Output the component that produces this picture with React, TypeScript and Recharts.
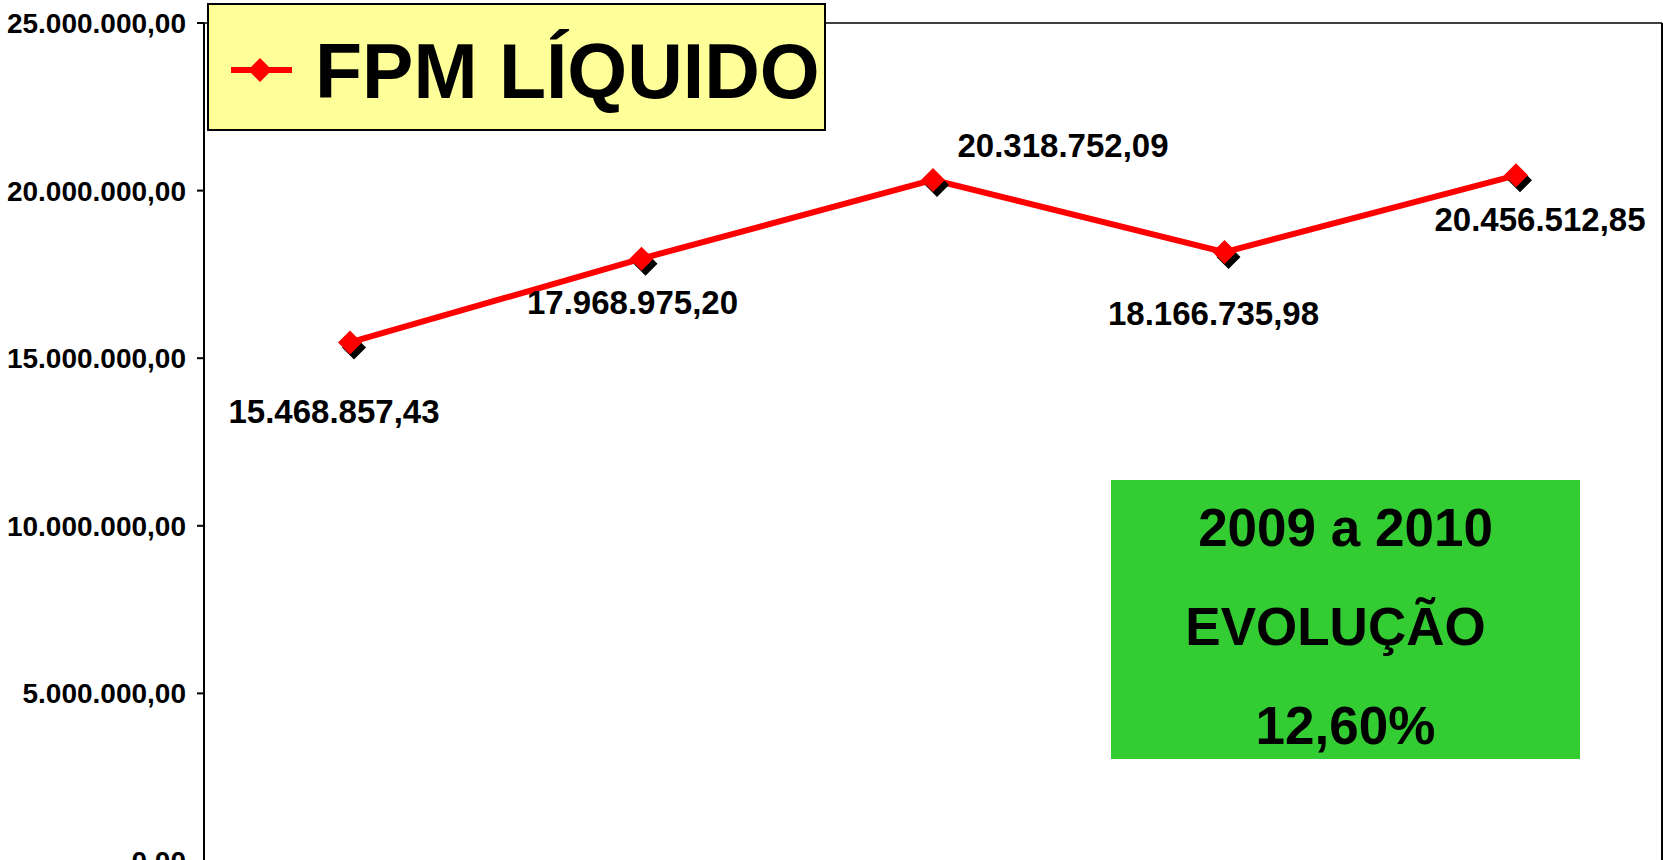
import React from "react";
import {
  LineChart,
  Line,
  XAxis,
  YAxis,
  CartesianGrid,
  Legend,
  LabelList,
} from "recharts";

const years = ["2006", "2007", "2008", "2009", "2010"];
const fpmLiquido = [15468857.43, 17968975.2, 20318752.09, 18166735.98, 20456512.85];
const yTicks = [0, 5000000, 10000000, 15000000, 20000000, 25000000];
const seriesName = "FPM LÍQUIDO";
const noteLines = ["2009 a 2010", "EVOLUÇÃO", "12,60%"];

// where each value label sits relative to its point
const labelOffsets = [
  [-16, 69],
  [-9, 44],
  [130, -34],
  [-11, 61],
  [24, 44],
];

const data = years.map((year, i) => ({ year, value: fpmLiquido[i] }));

const FONT = '"Liberation Sans", Arial, sans-serif';

const fmtBR = (v: number) => {
  const [int, dec] = v.toFixed(2).split(".");
  return int.replace(/\B(?=(\d{3})+(?!\d))/g, ".") + "," + dec;
};

const Diamond = ({ cx, cy, r, fill }: { cx: number; cy: number; r: number; fill: string }) => (
  <path d={`M${cx},${cy - r}L${cx + r},${cy}L${cx},${cy + r}L${cx - r},${cy}Z`} fill={fill} />
);

const ShadowDot = (props: any) => {
  const { cx, cy, index } = props;
  if (cx == null || cy == null) return null;
  return (
    <g key={`dot-${index}`}>
      <Diamond cx={cx + 4} cy={cy + 5} r={12} fill="#000" />
      <Diamond cx={cx} cy={cy} r={12} fill="#FF0000" />
    </g>
  );
};

const ValueLabel = (props: any) => {
  const { x, y, index, value } = props;
  const [dx, dy] = labelOffsets[index] || [0, 0];
  return (
    <text
      x={x + dx}
      y={y + dy}
      textAnchor="middle"
      dominantBaseline="central"
      fontFamily={FONT}
      fontWeight="bold"
      fontSize={33}
      fill="#000"
    >
      {fmtBR(value)}
    </text>
  );
};

const LegendBox = () => (
  <div
    style={{
      width: 615,
      height: 124,
      background: "#FFFF99",
      border: "2px solid #000",
    }}
  >
    <svg width={615} height={124}>
      <line x1={22} y1={65} x2={83} y2={65} stroke="#FF0000" strokeWidth={6} />
      <Diamond cx={51} cy={65} r={12} fill="#FF0000" />
      <text x={106} y={93} fontFamily={FONT} fontWeight="bold" fontSize={77} fill="#000">
        {seriesName}
      </text>
    </svg>
  </div>
);

export default function App() {
  return (
    <div style={{ position: "absolute", left: 0, top: 0, width: 1663, height: 860, overflow: "hidden", background: "#fff" }}>
      <LineChart width={1663} height={901} data={data} margin={{ top: 23, right: 0, left: 0, bottom: 40 }}>
        <CartesianGrid vertical={false} stroke="#000" strokeWidth={1.5} />
        <XAxis dataKey="year" hide padding={{ left: 146, right: 146 }} />
        <YAxis
          yAxisId="left"
          width={204}
          domain={[0, 25000000]}
          ticks={yTicks}
          tickFormatter={fmtBR}
          tickSize={7}
          tickMargin={11}
          axisLine={{ stroke: "#000", strokeWidth: 2 }}
          tickLine={{ stroke: "#000", strokeWidth: 2 }}
          tick={{ fill: "#000", fontFamily: FONT, fontWeight: "bold", fontSize: 28 }}
        />
        <YAxis
          yAxisId="right"
          orientation="right"
          width={1}
          domain={[0, 25000000]}
          tick={false}
          tickLine={false}
          axisLine={{ stroke: "#000", strokeWidth: 2 }}
        />
        <Legend
          layout="horizontal"
          verticalAlign="middle"
          align="center"
          content={<LegendBox />}
          wrapperStyle={{ left: 207, top: 3, width: "auto", height: "auto" }}
        />
        <Line
          yAxisId="left"
          type="linear"
          dataKey="value"
          name={seriesName}
          stroke="#FF0000"
          strokeWidth={6}
          dot={<ShadowDot />}
          activeDot={false}
          isAnimationActive={false}
        >
          <LabelList dataKey="value" content={<ValueLabel />} />
        </Line>
      </LineChart>
      <div
        style={{
          position: "absolute",
          left: 1111,
          top: 480,
          width: 469,
          height: 279,
          background: "#33CC33",
        }}
      >
        {noteLines.map((t, i) => (
          <div
            key={i}
            style={{
              position: "absolute",
              left: i === 1 ? -10 : 0,
              width: 469,
              top: -2 + i * 99,
              height: 99,
              lineHeight: "99px",
              textAlign: "center",
              fontFamily: FONT,
              fontWeight: "bold",
              fontSize: 53,
              color: "#000",
              whiteSpace: "nowrap",
            }}
          >
            {t}
          </div>
        ))}
      </div>
    </div>
  );
}
